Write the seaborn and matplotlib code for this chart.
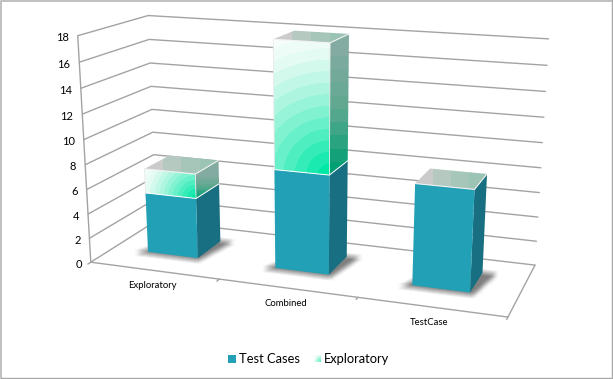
import numpy as np
import pandas as pd
import matplotlib
matplotlib.use("Agg")
import matplotlib.pyplot as plt
import seaborn as sns
from matplotlib.colors import LinearSegmentedColormap
from matplotlib.patches import Polygon, Rectangle
from matplotlib.path import Path

categories = ["Exploratory", "Combined", "TestCase"]
test_cases = [5, 8, 8]
exploratory = [2, 10, 0]
y_ticks = [0, 2, 4, 6, 8, 10, 12, 14, 16, 18]
series_names = ["Test Cases", "Exploratory"]

sns.set_style("white")
plt.rcParams["font.family"] = ["Lato", "DejaVu Sans"]

W, H = 613, 379
GRID = "#a3a3a3"
TEAL = "#22a0b5"
TEAL_SIDE = "#176f81"

# corners of the chart box: (category, value, depth) -> picture pixel
box_3d = [(0, 0, 0), (0, 18, 0), (3, 0, 0), (3, 18, 0),
          (0, 0, 1), (0, 18, 1), (3, 0, 1), (3, 18, 1)]
box_px = [(90, 261), (78, 35), (508, 317), (522, 67),
          (157, 222), (148, 16), (535, 265), (548, 37)]


def fit_projection(pts3, pts2):
    rows, rhs = [], []
    for (x, y, z), (u, v) in zip(pts3, pts2):
        rows.append([x, y, z, 1, 0, 0, 0, 0, -u * x, -u * y, -u * z])
        rows.append([0, 0, 0, 0, x, y, z, 1, -v * x, -v * y, -v * z])
        rhs += [u, v]
    m = np.linalg.lstsq(np.array(rows, float), np.array(rhs, float), rcond=None)[0]
    return np.append(m, 1).reshape(3, 4)


P = fit_projection(box_3d, box_px)


def proj(x, y, z):
    u, v, w = P @ np.array([x, y, z, 1.0])
    return u / w, v / w


fig = plt.figure(figsize=(W / 100, H / 100), dpi=100)
ax = fig.add_axes([0, 0, 1, 1])
ax.set_xlim(0, W)
ax.set_ylim(H, 0)
ax.axis("off")

# page frame
ax.plot([1, 1, W], [378, 0.7, 0.7], color="#c0c0c0", lw=1.4, zorder=9)
ax.plot([1, 611.5, 611.5], [378, 378, 0], color="#a8a8a8", lw=1.0, zorder=9)

# grid as seaborn lines
rows = []
for t in y_ticks:
    for j, (x, z) in enumerate([(0, 0), (0, 1), (3, 1)]):
        px, py = proj(x, t, z)
        rows.append(dict(line=f"g{t}", order=j, px=px, py=py))
for name, ends in {"front": [(0, 0, 0), (3, 0, 0)], "right": [(3, 0, 0), (3, 0, 1)],
                   "axis": [(0, 0, 0), (0, 18, 0)]}.items():
    for j, e in enumerate(ends):
        px, py = proj(*e)
        rows.append(dict(line=name, order=j, px=px, py=py))
for i in range(4):
    for j, z in enumerate([0, -0.04]):
        px, py = proj(i, 0, z)
        rows.append(dict(line=f"t{i}", order=j, px=px, py=py))
grid_df = pd.DataFrame(rows)
sns.lineplot(data=grid_df, x="px", y="py", units="line", estimator=None, sort=False,
             color=GRID, lw=1.0, ax=ax, legend=False, zorder=1)
ax.set_xlim(0, W)
ax.set_ylim(H, 0)
ax.axis("off")

for t in y_ticks:
    px, py = proj(0, t, 0)
    ax.text(px - 9, py + 2, str(t), ha="right", va="center", fontsize=8, color="black")
for i, c in enumerate(categories):
    px, py = proj(i + 0.5, 0, 0)
    ax.text(px - 2, py + 15, c, ha="center", va="center", fontsize=6.8, color="black")

yy, xx = np.mgrid[0:H, 0:W]
pix = np.column_stack([xx.ravel() + 0.5, yy.ravel() + 0.5])


def blur(a, n):
    kernel = np.ones(n) / n
    for axis in (0, 1):
        a = np.apply_along_axis(lambda r: np.convolve(r, kernel, mode="same"), axis, a)
    return a


def shaded_face(poly, values, cmap, zorder):
    im = ax.imshow(values, cmap=cmap, vmin=0, vmax=1, extent=(0, W, H, 0),
                   interpolation="nearest", aspect="auto", zorder=zorder)
    patch = Polygon(poly, closed=True, transform=ax.transData, fc="none", ec="none")
    ax.add_patch(patch)
    im.set_clip_path(patch)


front_cmap = LinearSegmentedColormap.from_list("f", ["#00e8a6", "#55efc4", "#a5f5dc", "#e2fbf3", "#ffffff"], N=14)
side_cmap = LinearSegmentedColormap.from_list("s", ["#83aba1", "#5ea88f", "#00a074"], N=10)
top_cmap = LinearSegmentedColormap.from_list("t", ["#cbcbcb", "#abc8bc", "#9cc4b4"], N=4)
shadow_cmap = LinearSegmentedColormap.from_list("sh", ["#80808000", "#808080ff"])

hw, z0, z1 = 0.2, 0.33, 0.72
shift = -0.02

for i in range(len(categories)):
    xl, xr = i + 0.5 + shift - hw, i + 0.5 + shift + hw
    tc, ex = test_cases[i], exploratory[i]
    top = tc + ex

    # blurred shadow on the floor
    foot = [proj(xl - 0.07, 0, z0 - 0.05), proj(xr + 0.03, 0, z0 - 0.05),
            proj(xr + 0.1, 0, z1 + 0.02), proj(xl + 0.1, 0, z1 + 0.02)]
    mask = Path(foot).contains_points(pix).reshape(H, W).astype(float)
    ax.imshow(blur(mask, 7), cmap=shadow_cmap, vmin=0, vmax=1, extent=(0, W, H, 0),
              interpolation="bilinear", aspect="auto", zorder=2)

    # teal part
    ax.add_patch(Polygon([proj(xr, 0, z0), proj(xr, 0, z1), proj(xr, tc, z1), proj(xr, tc, z0)],
                         fc=TEAL_SIDE, ec="none", zorder=3))
    ax.add_patch(Polygon([proj(xl, 0, z0), proj(xr, 0, z0), proj(xr, tc, z0), proj(xl, tc, z0)],
                         fc=TEAL, ec="none", zorder=3))

    # green part
    if ex > 0:
        front = [proj(xl, tc, z0), proj(xr, tc, z0), proj(xr, top, z0), proj(xl, top, z0)]
        fx, fy = front[1]
        diag = np.hypot(fx - front[3][0], fy - front[3][1]) * 1.1
        d = np.hypot(xx + 0.5 - fx, yy + 0.5 - fy) / diag
        shaded_face(front, np.clip(d, 0, 1), front_cmap, 4)
        side = [proj(xr, tc, z0), proj(xr, tc, z1), proj(xr, top, z1), proj(xr, top, z0)]
        sy_top, sy_bot = side[3][1], side[0][1]
        shaded_face(side, np.clip((yy + 0.5 - sy_top) / (sy_bot - sy_top), 0, 1), side_cmap, 4)
        ax.plot(*zip(proj(xl, tc, z0), proj(xr, tc, z0), proj(xr, tc, z1)), color="white", lw=0.7, zorder=5)
        ax.plot(*zip(proj(xl, tc, z0), proj(xl, top, z0)), color="#e8e8e8", lw=0.6, zorder=5)

    # cap
    cap = [proj(xl, top, z0), proj(xr, top, z0), proj(xr, top, z1), proj(xl, top, z1)]
    cx = [p[0] for p in cap]
    shaded_face(cap, np.clip((xx + 0.5 - min(cx)) / (max(cx) - min(cx)), 0, 1), top_cmap, 5)
    ax.plot(*zip(cap[0], cap[1], cap[2]), color="#f2f2f2", lw=0.8, zorder=6)
    ax.plot(*zip(cap[1], proj(xr, top - min(ex, top), z0)), color="#e8e8e8", lw=0.6, zorder=6)

# legend
ax.add_patch(Rectangle((228, 355), 8, 7.5, fc=TEAL, ec="none", zorder=7))
ax.text(239, 359, series_names[0], ha="left", va="center", fontsize=9.3, color="black")
sw = np.clip(0.25 + np.hypot(xx + 0.5 - 321, yy + 0.5 - 361) / 12, 0, 1)
shaded_face([(314, 355), (321, 355), (321, 362), (314, 362)], sw, front_cmap, 7)
ax.text(324, 359, series_names[1], ha="left", va="center", fontsize=9.3, color="black")

ax.set_xlim(0, W)
ax.set_ylim(H, 0)
fig.savefig("out.png", dpi=100, facecolor="white")
